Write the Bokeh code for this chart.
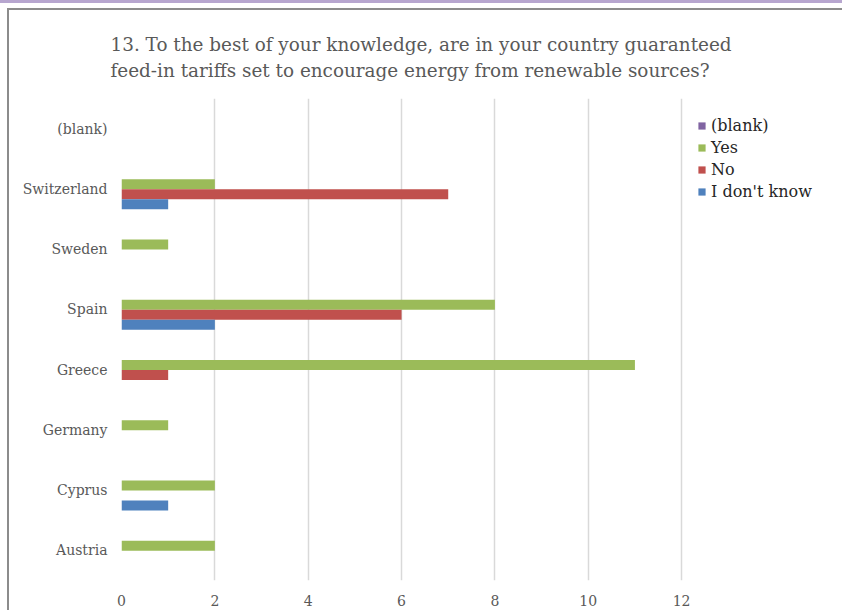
from bokeh.plotting import figure
from bokeh.models import (ColumnDataSource, FactorRange, FixedTicker, Legend, LegendItem, Title)
from bokeh.transform import dodge
from bokeh.embed import file_html
from bokeh.resources import INLINE

# ---- data ----
countries = ["Austria", "Cyprus", "Germany", "Greece", "Spain", "Sweden", "Switzerland", "(blank)"]
blank_vals = [0, 0, 0, 0, 0, 0, 0, 0]
yes_vals = [2, 2, 1, 11, 8, 1, 2, 0]
no_vals = [0, 0, 0, 1, 6, 0, 7, 0]
idk_vals = [0, 1, 0, 0, 2, 0, 1, 0]
series_names = ["(blank)", "Yes", "No", "I don't know"]
series_colors = ["#8064A2", "#9BBB59", "#C0504D", "#4F81BD"]
x_ticks = [0, 2, 4, 6, 8, 10, 12]
title_text = ("13. To the best of your knowledge, are in your country guaranteed\n"
              "feed-in tariffs set to encourage energy from renewable sources?")

src = ColumnDataSource(dict(country=countries, blank=blank_vals, yes=yes_vals,
                            no=no_vals, idk=idk_vals))

FONT = "DejaVu Serif"
GREY = "#595959"

p = figure(width=840, height=602, y_range=FactorRange(*countries), x_range=(0, 15.49),
           output_backend="svg", toolbar_location=None, title=None,
           min_border_left=112, min_border_right=5, min_border_top=88,
           min_border_bottom=32)
p.outline_line_color = None
p.background_fill_color = "white"
p.border_fill_color = "white"
p.styles = {"margin-left": "9px", "margin-top": "10px", "vertical-align": "top",
            "box-shadow": ("-2px -2px 0px 0px #8C8C8C, "
                           "0px 2px 0px 9px #FFFFFF, "
                           "0px 0px 0px 10px #B7A6CF")}

cols = ["blank", "yes", "no", "idk"]
offsets = [0.24, 0.075, -0.09, -0.255]
h = 0.166
renderers = []
for col, off, color in zip(cols, offsets, series_colors):
    r = p.hbar(y=dodge("country", off, range=p.y_range), left=0, right=col, height=h,
               source=src, fill_color=color, line_color=None)
    renderers.append(r)

legend = Legend(items=[LegendItem(label=n, renderers=[r]) for n, r in zip(series_names, renderers)],
                location=(576, 378), margin=0, padding=0, spacing=0,
                glyph_width=9, glyph_height=9, label_height=22, label_standoff=5,
                label_text_font=FONT, label_text_font_size="16px", label_text_color="#262626",
                border_line_color=None, background_fill_alpha=0)
p.add_layout(legend, "center")

# axes
p.xaxis.ticker = FixedTicker(ticks=x_ticks)
p.xaxis.axis_line_color = None
p.xaxis.major_tick_line_color = None
p.xaxis.major_tick_out = 0
p.xaxis.minor_tick_line_color = None
p.xaxis.major_label_text_font = FONT
p.xaxis.major_label_text_font_size = "14px"
p.xaxis.major_label_text_color = GREY
p.xaxis.major_label_standoff = 14

p.yaxis.axis_line_color = None
p.yaxis.major_tick_line_color = None
p.yaxis.major_tick_out = 0
p.yaxis.major_label_text_font = FONT
p.yaxis.major_label_text_font_size = "14px"
p.yaxis.major_label_text_color = GREY
p.yaxis.major_label_standoff = 14

p.xgrid.ticker = FixedTicker(ticks=x_ticks)
p.xgrid.grid_line_color = "#D9D9D9"
p.xgrid.grid_line_width = 1.5
p.ygrid.grid_line_color = None

p.add_layout(Title(text=title_text, align="left", offset=-11, text_font=FONT,
                   text_font_size="18.4px", text_font_style="normal", text_color=GREY,
                   text_line_height=1.25, standoff=35), "above")

open("out.html", "w").write(file_html(p, INLINE))
